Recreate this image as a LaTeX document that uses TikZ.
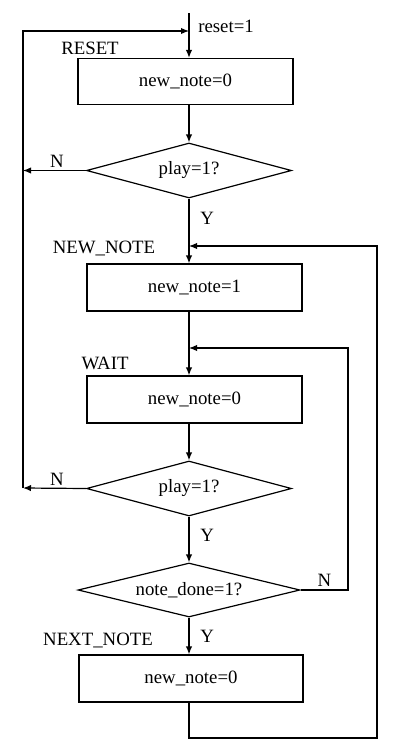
\documentclass[tikz,border=0pt]{standalone}
\usepackage{fontspec}
\setmainfont{Liberation Serif}
\usepackage{tikz}
\usetikzlibrary{arrows.meta,shapes.geometric,positioning,calc}

\begin{document}
\begin{tikzpicture}[x=0.5pt,y=-0.5pt,line width=0.6pt,
    every node/.style={font=\fontsize{9.4pt}{11pt}\selectfont},
    >={Latex[length=4pt,width=3.2pt]},
    statebox/.style={draw,rectangle,minimum width=107.5pt,minimum height=23pt,inner sep=1pt},
    testbox/.style={draw,diamond,aspect=3.7,minimum width=102.5pt,minimum height=27.5pt,inner sep=1pt}]
  \useasboundingbox (0,0) rectangle (400,755);
  % states and tests
  \node[statebox] (rst) at (185.5,81.5) {new\_note=0};
  \node[testbox] (d1) at (189,170.5) {play=1?};
  \node[statebox,minimum height=23.5pt] (nn) at (194.5,287.5) {new\_note=1};
  \node[statebox,minimum height=23.5pt] (wt) at (194.5,399.5) {new\_note=0};
  \node[testbox] (d2) at (189,488.5) {play=1?};
  \node[testbox,minimum width=111pt,minimum height=27pt] (d3) at (189,590) {note\_done=1?};
  \node[statebox,minimum width=112pt,minimum height=23.5pt] (nxt) at (191,678.5) {new\_note=0};
  % state names
  \node (lrst) at (90,48) {RESET};
  \node (lnn) at (104,248) {NEW\_NOTE};
  \node (lwt) at (105,363) {WAIT};
  \node (lnxt) at (98,640) {NEXT\_NOTE};
  % bends of the loops
  \coordinate (top) at (189,13);
  \coordinate (jl) at (189,31);
  \coordinate (lt) at (23,31);
  \coordinate (lb) at (23,488);
  \coordinate (jr) at (189,246);
  \coordinate (ro) at (377,738);
  \coordinate (jw) at (189,348);
  \coordinate (ri) at (348,590);
  % main flow
  \draw[->] (top) -- (rst.north -| top) node[pos=0.3,right=1pt] (rs) {reset=1};
  \draw[->] (rst.south -| d1) -- (d1.north);
  \draw[->] (d1.south) -- (nn.north -| d1) node[pos=0.3,right=2pt] (y1) {Y};
  \draw[->] (nn.south -| d1) -- (wt.north -| d1);
  \draw[->] (wt.south -| d1) -- (d2.north);
  \draw[->] (d2.south) -- (d3.north) node[pos=0.4,right=2pt] (y2) {Y};
  \draw[->] (d3.south) -- (nxt.north -| d3) node[pos=0.5,right=2pt] (y3) {Y};
  % loops back
  \draw[->] (d1.west) -- (d1.west -| lt) node[pos=0.46,above=-2pt] (n1) {N};
  \draw[->] (d2.west) -- (lb) node[pos=0.46,above=-2pt] (n2) {N};
  \draw[->] (lb) -- (lt) -- (jl);
  \draw[->] (d3.east) -- (ri) node[pos=0.5,above=-2pt] (n3) {N} |- (jw);
  \draw[->] (nxt.south -| d3) |- (ro) |- (jr);
\end{tikzpicture}
\end{document}
